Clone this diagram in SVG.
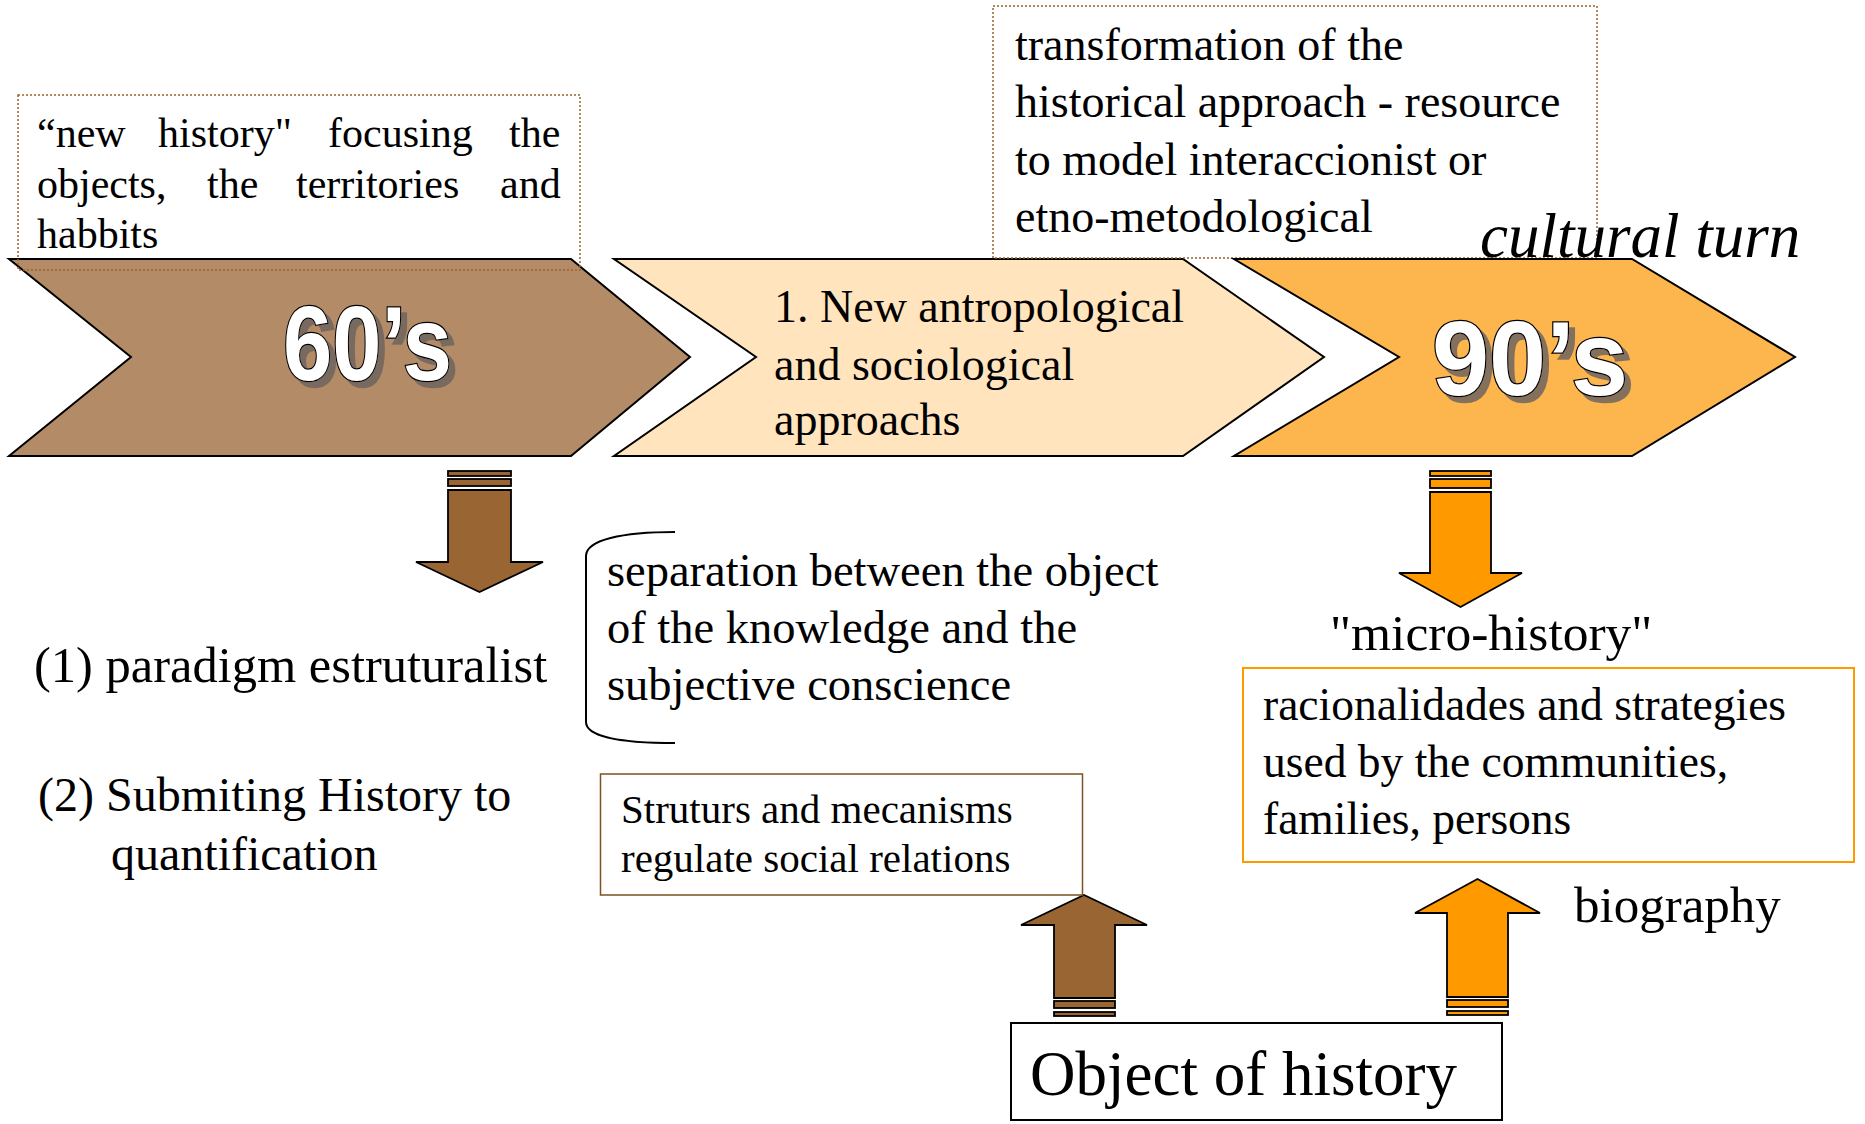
<svg xmlns="http://www.w3.org/2000/svg" width="1865" height="1124" viewBox="0 0 1865 1124">
<defs>
<filter id="shadow" x="-10%" y="-10%" width="130%" height="130%">
<feDropShadow dx="6" dy="6" stdDeviation="0.5" flood-color="#6e655e" flood-opacity="0.85"/>
</filter>
</defs>
<style>
.t{font-family:"Liberation Serif","Times New Roman",serif;fill:#000}
.big{font-family:"Liberation Sans",Arial,sans-serif;font-weight:bold;font-size:105px;fill:#fff;stroke:#000;stroke-width:2.5px;paint-order:stroke;filter:url(#shadow)}
.chev{stroke:#000;stroke-width:2}
.dot{fill:none;stroke:#99632e;stroke-width:1.5;stroke-dasharray:2 2}
.arr{stroke:#000;stroke-width:1.8}
.brown{fill:#996633}
.orange{fill:#FF9900}
</style>
<rect width="1865" height="1124" fill="#fff"/>

<g id="chevron-60s">
<polygon class="chev" fill="#B38B67" points="9,259 571,259 690,357 571,456 9,456 131,357"/>
<text class="big" x="283" y="380" textLength="169" lengthAdjust="spacingAndGlyphs">60’s</text>
</g>

<g id="box-new-history">
<rect class="dot" x="18" y="95" width="562" height="175"/>
<text class="t" font-size="42" y="147"><tspan x="37">“new</tspan><tspan x="158">history"</tspan><tspan x="328">focusing</tspan><tspan x="509">the</tspan></text>
<text class="t" font-size="42" y="198"><tspan x="37">objects,</tspan><tspan x="207">the</tspan><tspan x="296">territories</tspan><tspan x="500">and</tspan></text>
<text class="t" font-size="42" x="37" y="248">habbits</text>
</g>

<g id="chevron-approaches">
<polygon class="chev" fill="#FFE4BD" points="614,259 1183,259 1324,357 1183,456 614,456 756,357"/>
<text class="t" font-size="46" x="774" y="322">1. New antropological</text>
<text class="t" font-size="46" x="774" y="380">and sociological</text>
<text class="t" font-size="46" x="774" y="435">approachs</text>
</g>

<g id="box-transformation">
<rect class="dot" x="993" y="6" width="604" height="252"/>
<text class="t" font-size="46" x="1015" y="60">transformation of the</text>
<text class="t" font-size="46" x="1015" y="117">historical approach - resource</text>
<text class="t" font-size="46" x="1015" y="175">to model interaccionist or</text>
<text class="t" font-size="46" x="1015" y="232">etno-metodological</text>
</g>

<g id="chevron-90s">
<polygon class="chev" fill="#FDB54D" points="1234,259 1632,259 1795,357 1632,456 1234,456 1399,357"/>
<text class="big" x="1432" y="395" textLength="196" lengthAdjust="spacingAndGlyphs">90’s</text>
</g>

<g id="label-cultural-turn">
<text class="t" font-size="63" font-style="italic" x="1480" y="257">cultural turn</text>
</g>

<g id="connectors">
<g id="arrow-down-60s" class="arr brown">
<rect x="448" y="471" width="63" height="5"/>
<rect x="448" y="479" width="63" height="7"/>
<polygon points="448,490 511,490 511,562 543,562 479.5,592 416,562 448,562"/>
</g>
<g id="arrow-down-90s" class="arr orange">
<rect x="1430" y="471" width="61" height="5"/>
<rect x="1430" y="479" width="61" height="9"/>
<polygon points="1430,492 1491,492 1491,573 1522,573 1460.5,607 1399,573 1430,573"/>
</g>
<g id="arrow-up-structures" class="arr brown">
<polygon points="1054,998 1115,998 1115,925 1147,925 1084,895 1021,925 1054,925"/>
<rect x="1054" y="1001" width="61" height="7"/>
<rect x="1054" y="1012" width="61" height="4"/>
</g>
<g id="arrow-up-micro" class="arr orange">
<polygon points="1447,997 1508,997 1508,913 1540,913 1477.5,879 1415,913 1447,913"/>
<rect x="1447" y="1000" width="61" height="7"/>
<rect x="1447" y="1011" width="61" height="4"/>
</g>
<path id="brace" d="M675,532 C622,532 586,540 586,556 L586,722 C586,737 622,743 675,743" fill="none" stroke="#000" stroke-width="2"/>
</g>

<g id="label-paradigm">
<text class="t" font-size="50.5" x="34" y="682">(1) paradigm estruturalist</text>
</g>

<g id="label-quantification">
<text class="t" font-size="48" x="38" y="811">(2) Submiting History to</text>
<text class="t" font-size="48" x="111" y="870">quantification</text>
</g>

<g id="label-separation">
<text class="t" font-size="46.5" x="607" y="586">separation between the object</text>
<text class="t" font-size="46.5" x="607" y="643">of the knowledge and the</text>
<text class="t" font-size="46.5" x="607" y="700">subjective conscience</text>
</g>

<g id="box-structures">
<rect x="600.5" y="774" width="482" height="121" fill="none" stroke="#7F5020" stroke-width="1.5"/>
<text class="t" font-size="41" x="621" y="823">Struturs and mecanisms</text>
<text class="t" font-size="41" x="621" y="872">regulate social relations</text>
</g>

<g id="label-micro-history">
<text class="t" font-size="51.5" x="1330" y="650">"micro-history"</text>
</g>

<g id="box-racionalidades">
<rect x="1243" y="668" width="611" height="194" fill="none" stroke="#FF9900" stroke-width="2"/>
<text class="t" font-size="45.5" x="1263" y="720">racionalidades and strategies</text>
<text class="t" font-size="45.5" x="1263" y="777">used by the communities,</text>
<text class="t" font-size="45.5" x="1263" y="834">families, persons</text>
</g>

<g id="label-biography">
<text class="t" font-size="51" x="1574" y="922">biography</text>
</g>

<g id="box-object">
<rect x="1011" y="1023" width="491" height="97" fill="none" stroke="#000" stroke-width="2"/>
<text class="t" font-size="63" x="1030" y="1095">Object of history</text>
</g>
</svg>
